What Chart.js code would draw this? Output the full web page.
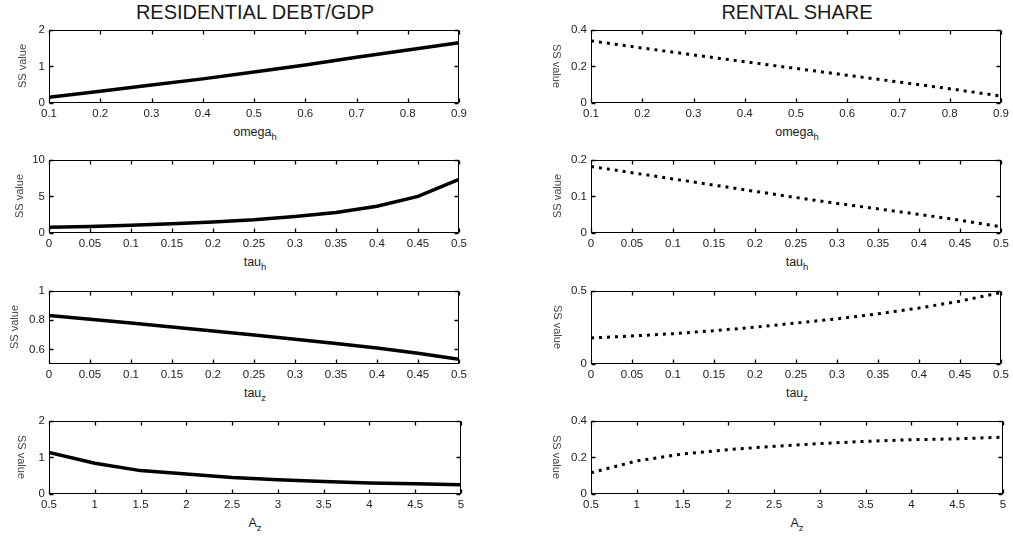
<!DOCTYPE html>
<html>
<head>
<meta charset="utf-8">
<script src="https://cdn.jsdelivr.net/npm/chart.js@4.4.1/dist/chart.umd.min.js"></script>
<style>
  body { margin:0; background:#fff; width:1013px; height:537px; position:relative; overflow:hidden;
         font-family:"Liberation Sans", Arial, sans-serif; }
  canvas { position:absolute; }
  .title { position:absolute; top:1px; width:412px; line-height:22px; font-size:20px; color:#1a1a1a; text-align:center; }
  .xlab { position:absolute; width:412px; line-height:14px; font-size:12.5px; color:#1a1a1a; text-align:center; }
  .xlab sub { font-size:9.5px; vertical-align:-4px; line-height:0; }
  .ylab { position:absolute; width:80px; height:14px; line-height:14px; font-size:11px; color:#444; text-align:center; }
</style>
</head>
<body>
<div class="title" style="left:49px">RESIDENTIAL DEBT/GDP</div>
<div class="title" style="left:591px">RENTAL SHARE</div>
<script>
// x grids of the parameter sweeps
const omegaH = [0.1, 0.2, 0.3, 0.4, 0.5, 0.6, 0.7, 0.8, 0.9];
const tauGrid = [0, 0.05, 0.1, 0.15, 0.2, 0.25, 0.3, 0.35, 0.4, 0.45, 0.5];
const azGrid = [0.5, 1, 1.5, 2, 2.5, 3, 3.5, 4, 4.5, 5];

// steady state values, residential debt/GDP (left column)
const debtOmega = [0.16, 0.32, 0.49, 0.66, 0.85, 1.04, 1.25, 1.45, 1.65];
const debtTauH = [0.78, 0.9, 1.05, 1.25, 1.5, 1.8, 2.25, 2.8, 3.65, 5.0, 7.35];
const debtTauZ = [0.832, 0.806, 0.78, 0.753, 0.726, 0.698, 0.669, 0.64, 0.609, 0.574, 0.532];
const debtAz = [1.14, 0.84, 0.64, 0.55, 0.45, 0.39, 0.34, 0.3, 0.28, 0.25];

// steady state values, rental share (right column)
const rentOmega = [0.34, 0.301, 0.263, 0.226, 0.189, 0.152, 0.115, 0.078, 0.038];
const rentTauH = [0.182, 0.165, 0.148, 0.131, 0.114, 0.097, 0.081, 0.066, 0.051, 0.035, 0.017];
const rentTauZ = [0.178, 0.192, 0.207, 0.228, 0.252, 0.28, 0.309, 0.343, 0.383, 0.43, 0.489];
const rentAz = [0.116, 0.181, 0.219, 0.243, 0.261, 0.276, 0.288, 0.297, 0.302, 0.311];

// tick labels
const omegaTicks = [0.1, 0.2, 0.3, 0.4, 0.5, 0.6, 0.7, 0.8, 0.9];
const tauTicks = [0, 0.05, 0.1, 0.15, 0.2, 0.25, 0.3, 0.35, 0.4, 0.45, 0.5];
const azTicks = [0.5, 1, 1.5, 2, 2.5, 3, 3.5, 4, 4.5, 5];
const yTicks0to2 = [0, 1, 2];
const yTicks0to10 = [0, 5, 10];
const yTicksTauZ = [0.6, 0.8, 1];
const yTicks0to04 = [0, 0.2, 0.4];
const yTicks0to02 = [0, 0.1, 0.2];
const yTicks0to05 = [0, 0.5];

const ROW_TOP = [29, 159, 290, 420];
const COL_LEFT = [49, 591];
const PLOT_W = 412, PLOT_H = 74;

const panels = [
  { r: 0, c: 0, xs: omegaH, ys: debtOmega, xMin: 0.1, xMax: 0.9, xt: omegaTicks, yMin: 0, yMax: 2, yt: yTicks0to2, lab: 'omega<sub>h</sub>', ylx: 22, flip: false },
  { r: 1, c: 0, xs: tauGrid, ys: debtTauH, xMin: 0, xMax: 0.5, xt: tauTicks, yMin: 0, yMax: 10, yt: yTicks0to10, lab: 'tau<sub>h</sub>', ylx: 19, flip: false },
  { r: 2, c: 0, xs: tauGrid, ys: debtTauZ, xMin: 0, xMax: 0.5, xt: tauTicks, yMin: 0.5, yMax: 1, yt: yTicksTauZ, lab: 'tau<sub>z</sub>', ylx: 14, flip: false },
  { r: 3, c: 0, xs: azGrid, ys: debtAz, xMin: 0.5, xMax: 5, xt: azTicks, yMin: 0, yMax: 2, yt: yTicks0to2, lab: 'A<sub>z</sub>', ylx: 22, flip: true },
  { r: 0, c: 1, xs: omegaH, ys: rentOmega, xMin: 0.1, xMax: 0.9, xt: omegaTicks, yMin: 0, yMax: 0.4, yt: yTicks0to04, lab: 'omega<sub>h</sub>', ylx: 557, flip: true, dotted: true },
  { r: 1, c: 1, xs: tauGrid, ys: rentTauH, xMin: 0, xMax: 0.5, xt: tauTicks, yMin: 0, yMax: 0.2, yt: yTicks0to02, lab: 'tau<sub>h</sub>', ylx: 557, flip: false, dotted: true },
  { r: 2, c: 1, xs: tauGrid, ys: rentTauZ, xMin: 0, xMax: 0.5, xt: tauTicks, yMin: 0, yMax: 0.5, yt: yTicks0to05, lab: 'tau<sub>z</sub>', ylx: 558, flip: true, dotted: true },
  { r: 3, c: 1, xs: azGrid, ys: rentAz, xMin: 0.5, xMax: 5, xt: azTicks, yMin: 0, yMax: 0.4, yt: yTicks0to04, lab: 'A<sub>z</sub>', ylx: 557, flip: true, dotted: true }
];

const fmt = v => String(Math.round(v * 1000) / 1000);

// box round the axes with inward ticks on all four sides, like matlab
const matlabBox = {
  id: 'matlabBox',
  afterDraw(chart) {
    const { ctx, chartArea: a, scales: { x, y } } = chart;
    const len = 4;
    const L = Math.round(a.left) + 0.5, R = Math.round(a.right) - 0.5;
    const T = Math.round(a.top) + 0.5, B = Math.round(a.bottom) - 0.5;
    ctx.save();
    ctx.setLineDash([]);
    ctx.strokeStyle = '#000';
    ctx.lineWidth = 1.3;
    x.ticks.forEach(t => {
      const px = Math.round(x.getPixelForValue(t.value)) + 0.5;
      ctx.beginPath();
      ctx.moveTo(px, B); ctx.lineTo(px, B - len);
      ctx.moveTo(px, T); ctx.lineTo(px, T + len);
      ctx.stroke();
    });
    y.ticks.forEach(t => {
      const py = Math.round(y.getPixelForValue(t.value)) + 0.5;
      ctx.beginPath();
      ctx.moveTo(L, py); ctx.lineTo(L + len, py);
      ctx.moveTo(R, py); ctx.lineTo(R - len, py);
      ctx.stroke();
    });
    ctx.lineWidth = 1;
    ctx.strokeRect(L, T, R - L, B - T);
    ctx.restore();
  }
};

Chart.defaults.font.family = '"Liberation Sans", Arial, sans-serif';

panels.forEach(p => {
  const plotLeft = COL_LEFT[p.c], plotTop = ROW_TOP[p.r];
  const cv = document.createElement('canvas');
  cv.width = 49 + PLOT_W + 10;
  cv.height = 10 + PLOT_H + 22;
  cv.style.left = (plotLeft - 49) + 'px';
  cv.style.top = (plotTop - 10) + 'px';
  document.body.appendChild(cv);

  const xl = document.createElement('div');
  xl.className = 'xlab';
  xl.innerHTML = p.lab;
  xl.style.left = plotLeft + 'px';
  xl.style.top = (plotTop + PLOT_H + 22) + 'px';
  document.body.appendChild(xl);

  const yl = document.createElement('div');
  yl.className = 'ylab';
  yl.textContent = 'SS value';
  yl.style.left = (p.ylx - 40) + 'px';
  yl.style.top = (plotTop + PLOT_H / 2 - 7) + 'px';
  yl.style.transform = p.flip ? 'rotate(90deg)' : 'rotate(-90deg)';
  document.body.appendChild(yl);

  new Chart(cv, {
    type: 'line',
    data: {
      datasets: [{
        data: p.xs.map((v, i) => ({ x: v, y: p.ys[i] })),
        borderColor: '#000',
        borderWidth: p.dotted ? 3 : 3.5,
        borderDash: p.dotted ? [3, 5] : [],
        borderCapStyle: 'butt',
        pointRadius: 0,
        tension: 0,
        fill: false
      }]
    },
    options: {
      responsive: false,
      animation: false,
      devicePixelRatio: 1,
      layout: { padding: { left: 0, top: 10, right: 10, bottom: 0 } },
      plugins: { legend: { display: false }, tooltip: { enabled: false } },
      scales: {
        x: {
          type: 'linear', min: p.xMin, max: p.xMax,
          afterBuildTicks: s => { s.ticks = p.xt.map(v => ({ value: v })); },
          afterFit: s => { s.height = 22; },
          grid: { display: false, drawTicks: false },
          border: { display: false },
          ticks: { autoSkip: false, maxRotation: 0, padding: 4, color: '#222', font: { size: 11.5 }, callback: v => fmt(v) }
        },
        y: {
          type: 'linear', min: p.yMin, max: p.yMax,
          afterBuildTicks: s => { s.ticks = p.yt.map(v => ({ value: v })); },
          afterFit: s => { s.width = 49; },
          grid: { display: false, drawTicks: false },
          border: { display: false },
          ticks: { autoSkip: false, padding: 4, color: '#222', font: { size: 11.5 }, callback: v => fmt(v) }
        }
      }
    },
    plugins: [matlabBox]
  });
});
</script>
</body>
</html>
